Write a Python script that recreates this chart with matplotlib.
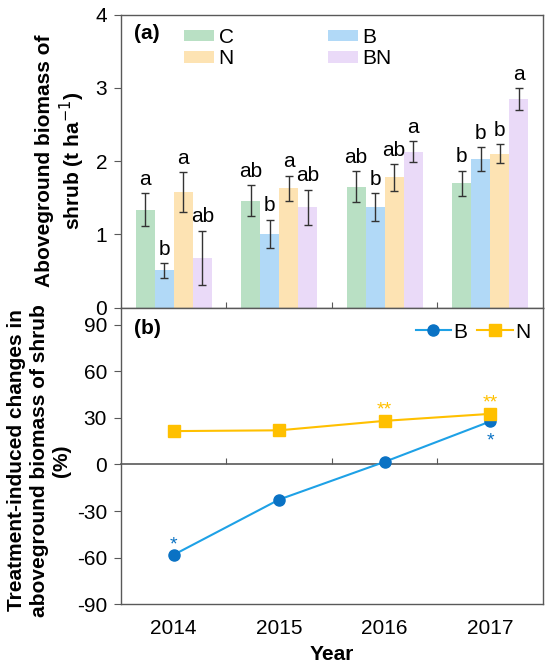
import matplotlib

matplotlib.use("Agg")
import matplotlib.pyplot as plt
import numpy as np

plt.rcParams["font.family"] = ["Liberation Sans", "DejaVu Sans"]
plt.rcParams["axes.unicode_minus"] = False

years = ["2014", "2015", "2016", "2017"]
treatments = ["C", "B", "N", "BN"]
bar_colors = ["#b9e0c4", "#b1d9f7", "#fde3b3", "#eadaf8"]

biomass = {
    "C": [1.34, 1.46, 1.65, 1.70],
    "B": [0.51, 1.01, 1.37, 2.03],
    "N": [1.58, 1.63, 1.78, 2.10],
    "BN": [0.68, 1.37, 2.13, 2.85],
}
biomass_err = {
    "C": [0.22, 0.21, 0.21, 0.17],
    "B": [0.10, 0.19, 0.19, 0.16],
    "N": [0.27, 0.17, 0.18, 0.13],
    "BN": [0.37, 0.24, 0.14, 0.15],
}
letters = {
    "C": ["a", "ab", "ab", "b"],
    "B": ["b", "b", "b", "b"],
    "N": ["a", "a", "ab", "b"],
    "BN": ["ab", "ab", "a", "a"],
}

change_B = [-58.2, -22.6, 1.7, 27.7]
change_N = [21.5, 22.0, 28.1, 32.6]
stars_B = ["*", "", "", "*"]
stars_N = ["", "", "**", "**"]

spine_col = "#595959"
fs = 15

fig = plt.figure(figsize=(5.5, 6.69), dpi=100)
ax1 = fig.add_axes([0.22, 0.540, 0.767, 0.438])
ax2 = fig.add_axes([0.22, 0.097, 0.767, 0.443])

x = np.arange(len(years))
w = 0.18
bars = {}
for k, t in enumerate(treatments):
    xs = x + (k - 1.5) * w
    bars[t] = ax1.bar(xs, biomass[t], w, color=bar_colors[k], label=t, zorder=2)
    ax1.errorbar(xs, biomass[t], yerr=biomass_err[t], fmt="none", ecolor="#333333",
                 elinewidth=1, capsize=3, capthick=1, zorder=3)
    for xi, v, e, lab in zip(xs, biomass[t], biomass_err[t], letters[t]):
        ax1.text(xi, v + e + 0.06, lab, ha="center", va="bottom", fontsize=fs)

ax1.set_xlim(-0.5, 3.5)
ax1.set_ylim(0, 4)
ax1.set_yticks([0, 1, 2, 3, 4])
ax1.set_xticks([0.5, 1.5, 2.5])
ax1.set_xticklabels([])
ax1.tick_params(axis="x", direction="in", length=4, color=spine_col)
ax1.tick_params(axis="y", direction="out", length=5, color=spine_col, labelsize=fs, pad=5)
ax1.text(0.03, 0.935, "(a)", transform=ax1.transAxes, fontsize=fs, fontweight="bold",
         ha="left", va="center")
# legend order so rows read C B / N BN
order = ["C", "N", "B", "BN"]
ax1.legend([bars[t] for t in order], order, loc="upper left",
           bbox_to_anchor=(0.15, 0.955), ncol=2, frameon=False,
           fontsize=fs, handlelength=1.45, handleheight=0.5, handletextpad=0.2,
           columnspacing=4.5, labelspacing=0.1, borderpad=0, borderaxespad=0)

ax2.plot(x, change_B, color="#1ea1e6", lw=1.5, marker="o", ms=8, mfc="#0a72c4",
         mec="#0a72c4", label="B", zorder=3)
ax2.plot(x, change_N, color="#ffc000", lw=1.5, marker="s", ms=8, mfc="#ffc000",
         mec="#ffc000", label="N", zorder=4)
for xi, v, s in zip(x, change_B, stars_B):
    if s:
        off = 7 if v < 0 else -14
        ax2.annotate(s, (xi, v), xytext=(0, off), textcoords="offset points",
                     ha="center", va="center", fontsize=14, color="#0a72c4")
for xi, v, s in zip(x, change_N, stars_N):
    if s:
        ax2.annotate(s, (xi, v), xytext=(0, 8), textcoords="offset points",
                     ha="center", va="center", fontsize=14, color="#ffc000")

ax2.set_xlim(-0.5, 3.5)
ax2.set_ylim(-90, 101)
ax2.set_yticks([-90, -60, -30, 0, 30, 60, 90])
ax2.set_xticks(x)
ax2.set_xticklabels(years)
ax2.tick_params(axis="x", length=0, pad=11, labelsize=fs)
ax2.tick_params(axis="y", direction="out", length=5, color=spine_col, labelsize=fs, pad=5)
ax2.set_xlabel("Year", fontsize=fs, fontweight="bold", labelpad=5)
ax2.text(0.03, 0.93, "(b)", transform=ax2.transAxes, fontsize=fs, fontweight="bold",
         ha="left", va="center")
ax2.legend(loc="upper right", bbox_to_anchor=(0.97, 0.95), ncol=2, frameon=False,
           fontsize=fs, handlelength=1.7, handletextpad=0.1, columnspacing=0.5,
           borderpad=0, borderaxespad=0)

zero_axis = ax2.secondary_xaxis(0, transform=ax2.transData)
zero_axis.set_xticks([0.5, 1.5, 2.5])
zero_axis.set_xticklabels([])
zero_axis.tick_params(direction="in", length=4, color=spine_col)
zero_axis.spines["bottom"].set_color(spine_col)
zero_axis.spines["bottom"].set_linewidth(1.2)

for ax in (ax1, ax2):
    for sp in ax.spines.values():
        sp.set_color(spine_col)
        sp.set_linewidth(1.0)

fig.text(0.111, 0.759, "Aboveground biomass of\nshrub (t ha$^{-1}$)", rotation=90,
         ha="center", va="center", fontsize=fs, fontweight="bold", multialignment="center",
         linespacing=1.15)
fig.text(0.071, 0.312, "Treatment-induced changes in\naboveground biomass of shrub\n(%)",
         rotation=90, ha="center", va="center", fontsize=fs, fontweight="bold",
         multialignment="center", linespacing=1.25)

fig.savefig("out.png", dpi=100)
